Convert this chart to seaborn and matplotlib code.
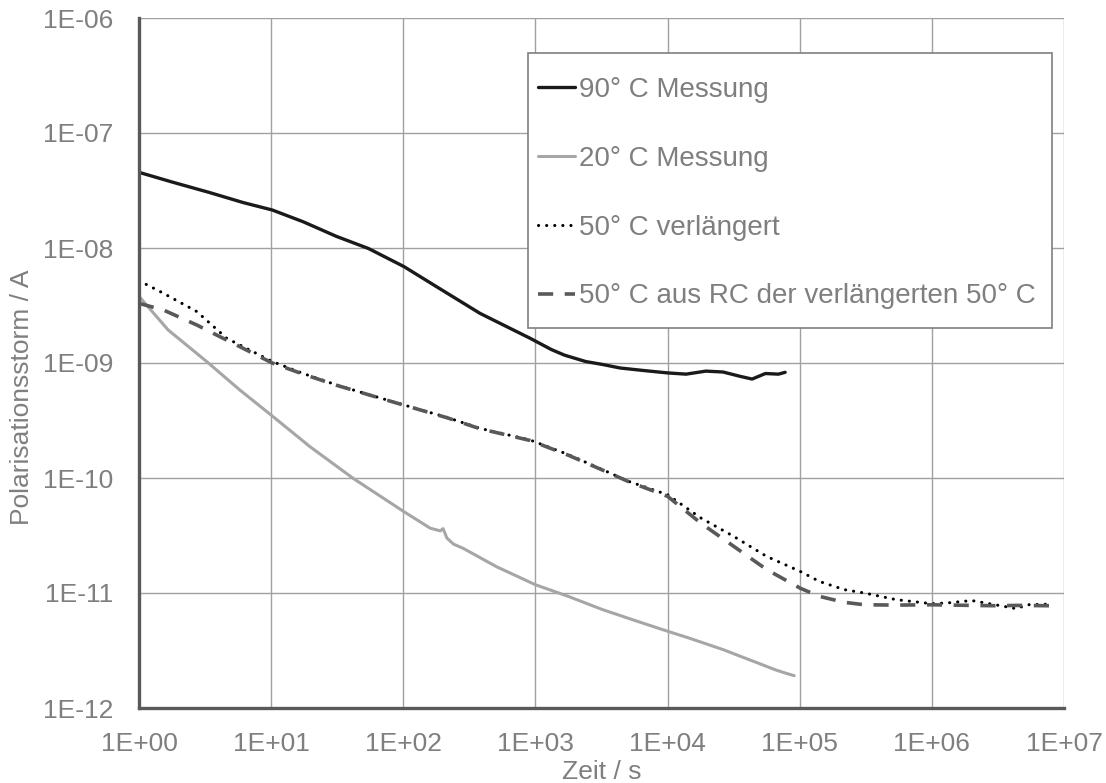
import numpy as np
import pandas as pd
import matplotlib
matplotlib.use("Agg")
import matplotlib.pyplot as plt
import seaborn as sns
from matplotlib.ticker import FixedLocator, FuncFormatter, NullLocator
from matplotlib.patches import Rectangle

# ---- data ----
t_90 = [1, 1.82, 3.44, 6.17, 10.2, 17.5, 31.3, 54.5, 101, 179, 381, 912, 1318, 1660,
        2400, 3236, 4365, 6607, 10000, 13800, 19500, 26300, 35500, 43600, 55000, 69000, 77600]
i_90 = [4.55e-8, 3.72e-8, 3.03e-8, 2.48e-8, 2.14e-8, 1.69e-8, 1.26e-8, 9.9e-9, 6.9e-9, 4.6e-9,
        2.7e-9, 1.64e-9, 1.31e-9, 1.17e-9, 1.03e-9, 9.7e-10, 9.05e-10, 8.6e-10, 8.2e-10, 8.0e-10,
        8.5e-10, 8.35e-10, 7.65e-10, 7.25e-10, 8.1e-10, 8.0e-10, 8.3e-10]

t_20 = [1, 1.66, 3.25, 5.82, 10.2, 19.7, 41.9, 101, 160, 190.5, 200, 214, 240, 285, 509,
        1000, 1770, 3230, 5890, 10000, 14500, 26500, 35700, 48300, 65300, 78200, 90800]
i_20 = [3.8e-9, 1.94e-9, 1.03e-9, 5.8e-10, 3.46e-10, 1.87e-10, 9.9e-11, 5.1e-11, 3.66e-11,
        3.47e-11, 3.63e-11, 3.0e-11, 2.66e-11, 2.44e-11, 1.69e-11, 1.18e-11, 9.35e-12, 7.16e-12,
        5.68e-12, 4.65e-12, 4.06e-12, 3.21e-12, 2.81e-12, 2.46e-12, 2.15e-12, 2.01e-12, 1.91e-12]

t_50v = [1, 1.53, 2.74, 4.61, 10.2, 17.5, 31.3, 56, 101, 213, 381, 912, 1770, 3230, 5070,
         10000, 17800, 31600, 56200, 101000, 141000, 217000, 309000, 537000, 1.0e6, 1.32e6,
         2.0e6, 3.02e6, 4.37e6, 5.25e6, 7.76e6]
i_50v = [5.2e-9, 4.04e-9, 2.8e-9, 1.64e-9, 1.03e-9, 8.1e-10, 6.44e-10, 5.27e-10, 4.32e-10,
         3.37e-10, 2.7e-10, 2.14e-10, 1.6e-10, 1.18e-10, 9.35e-11, 7.16e-11, 4.5e-11, 3.11e-11,
         2.08e-11, 1.54e-11, 1.26e-11, 1.07e-11, 1.0e-11, 8.75e-12, 8.07e-12, 8.2e-12, 8.6e-12,
         7.9e-12, 7.3e-12, 7.9e-12, 8.0e-12]

t_50rc = [1, 1.53, 2.74, 3.87, 10.2, 17.5, 31.3, 56, 101, 213, 381, 912, 1770, 3230, 5070,
          10000, 17800, 31600, 56200, 101000, 141000, 217000, 309000, 537000, 1.0e6, 2.0e6,
          3.02e6, 4.37e6, 7.76e6]
i_50rc = [3.3e-9, 2.89e-9, 2.14e-9, 1.75e-9, 1.0e-9, 8.0e-10, 6.4e-10, 5.25e-10, 4.3e-10,
          3.35e-10, 2.68e-10, 2.12e-10, 1.58e-10, 1.17e-10, 9.3e-11, 6.93e-11, 4.06e-11,
          2.55e-11, 1.6e-11, 1.1e-11, 9.35e-12, 8.3e-12, 7.9e-12, 7.85e-12, 7.9e-12, 7.8e-12,
          7.75e-12, 7.8e-12, 7.75e-12]

labels = ["90° C Messung", "20° C Messung", "50° C verlängert",
          "50° C aus RC der verlängerten 50° C"]
x_ticks = [1e0, 1e1, 1e2, 1e3, 1e4, 1e5, 1e6, 1e7]
y_ticks = [1e-12, 1e-11, 1e-10, 1e-9, 1e-8, 1e-7, 1e-6]
x_title = "Zeit / s"
y_title = "Polarisationsstorm / A"

# ---- style ----
sns.set_style("white")
plt.rcParams["font.family"] = ["Liberation Sans", "DejaVu Sans"]
TXT = "#7f7f7f"

W, H = 1106, 783
fig = plt.figure(figsize=(W / 100, H / 100), dpi=100)
ax = fig.add_axes([139 / W, 1 - 708 / H, (1064 - 139) / W, (708 - 18) / H])

ax.set_xscale("log")
ax.set_yscale("log")

sns.lineplot(x=t_90, y=i_90, ax=ax, color="#1a1a1a", lw=2.4, label=labels[0],
             estimator=None, sort=False)
sns.lineplot(x=t_20, y=i_20, ax=ax, color="#a6a6a6", lw=2.2, label=labels[1],
             estimator=None, sort=False)
l3 = sns.lineplot(x=t_50v, y=i_50v, ax=ax, color="#000000", lw=2.2, label=labels[2],
                  estimator=None, sort=False).lines[-1]
l3.set_linestyle((0, (0.05, 2.6)))
l3.set_dash_capstyle("round")
l4 = sns.lineplot(x=t_50rc, y=i_50rc, ax=ax, color="#595959", lw=2.6, label=labels[3],
                  estimator=None, sort=False).lines[-1]
l4.set_linestyle((0, (4.2, 3.2)))

ax.set_xlim(1e0, 1e7)
ax.set_ylim(1e-12, 1e-6)

fmt = FuncFormatter(lambda v, p: "1E{:+03d}".format(int(round(np.log10(v)))))
ax.xaxis.set_major_locator(FixedLocator(x_ticks))
ax.yaxis.set_major_locator(FixedLocator(y_ticks))
ax.xaxis.set_minor_locator(NullLocator())
ax.yaxis.set_minor_locator(NullLocator())
ax.xaxis.set_major_formatter(fmt)
ax.yaxis.set_major_formatter(fmt)

ax.grid(True, which="major", color="#a0a0a0", lw=1.0)
ax.set_axisbelow(True)
for s in ["top", "right"]:
    ax.spines[s].set_visible(False)
for s in ["left", "bottom"]:
    ax.spines[s].set_color("#595959")
    ax.spines[s].set_linewidth(2.4)

ax.tick_params(axis="both", which="major", direction="inout", length=11, width=1.8,
               color="#595959", labelsize=19, labelcolor=TXT)
ax.tick_params(axis="y", pad=13)
ax.tick_params(axis="x", pad=12)

ax.set_xlabel(x_title, fontsize=19, color=TXT, labelpad=3)
ax.set_ylabel(y_title, fontsize=19, color=TXT)
ax.yaxis.set_label_coords(-0.113, 0.45)

# legend frame + legend
frame = Rectangle((528 / W, 1 - 328 / H), (1052 - 528) / W, (328 - 53) / H,
                  transform=fig.transFigure, facecolor="white", edgecolor="#7f7f7f",
                  lw=1.2, zorder=4, clip_on=False)
ax.add_patch(frame)
leg = ax.legend(loc="upper left", bbox_to_anchor=(538 / W, 1 - 77 / H),
                bbox_transform=fig.transFigure, frameon=False, fontsize=20,
                borderpad=0, borderaxespad=0, handlelength=1.33, handletextpad=0.15,
                labelspacing=1.54)
for txt in leg.get_texts():
    txt.set_color(TXT)
leg.set_zorder(5)

fig.savefig("out.png", dpi=100)
